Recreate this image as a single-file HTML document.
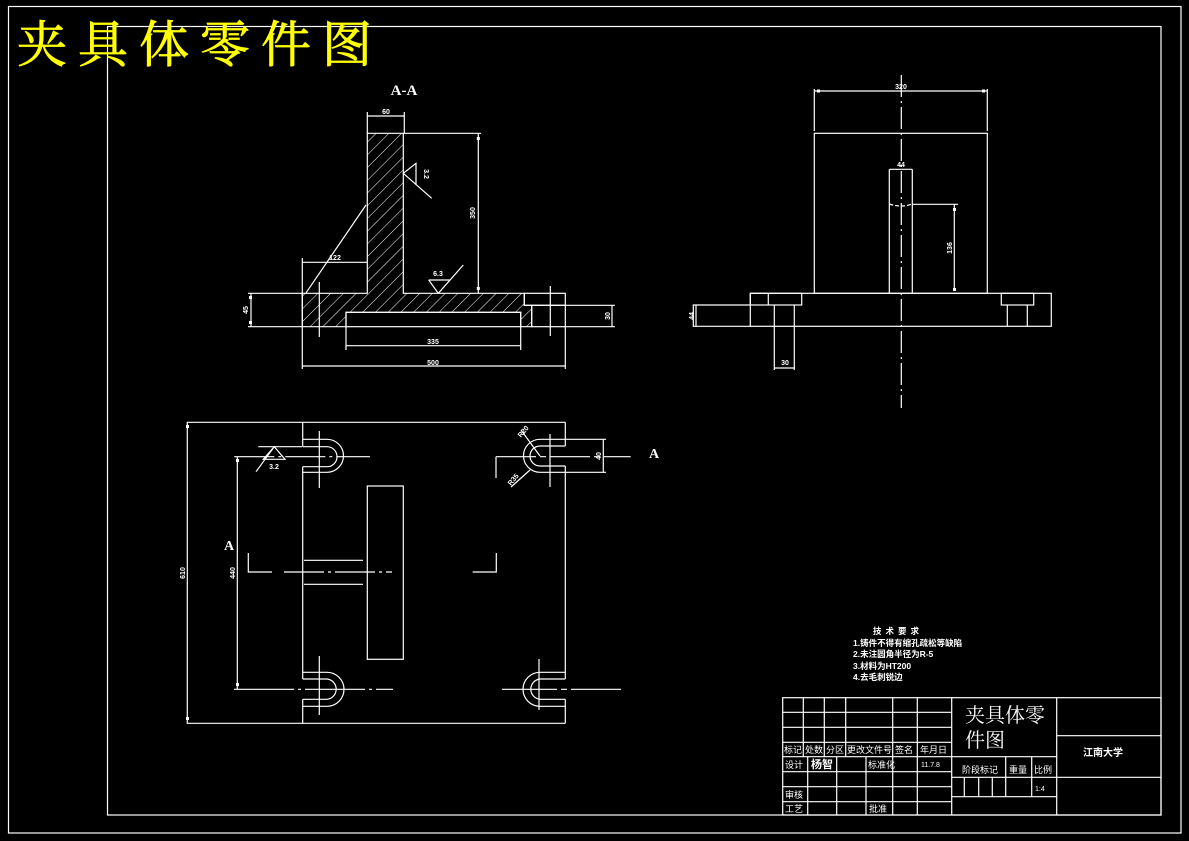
<!DOCTYPE html>
<html><head><meta charset="utf-8"><style>
html,body{margin:0;padding:0;background:#000;width:1189px;height:841px;overflow:hidden}
svg{display:block}
text{font-family:"Liberation Sans","Noto Sans CJK SC",sans-serif;fill:#fff}
.c{font-family:"Liberation Sans","Noto Sans CJK SC",sans-serif}
.s{font-family:"Liberation Serif","Noto Serif CJK SC",serif}
</style></head><body>
<svg width="1189" height="841" viewBox="0 0 1189 841" xmlns="http://www.w3.org/2000/svg">
<defs>
<pattern id="h" patternUnits="userSpaceOnUse" width="9" height="9" patternTransform="rotate(45)">
<line x1="0" y1="0" x2="0" y2="9" stroke="#fff" stroke-width="1"/>
</pattern>
</defs>
<g fill="none" stroke="#fff" stroke-width="1.2">
<rect x="8.5" y="6.5" width="1172.5" height="826.5"/>
<rect x="107.5" y="26.5" width="1053.5" height="788.5"/>

<path d="M367.3,133.3H403.3V293.3H524.3V305.3H531.7V326.7H520.7V312.3H346V326.7H302.3V293.3H367.3Z" fill="url(#h)"/>
<rect x="524.3" y="293.3" width="41" height="12"/>
<rect x="531.7" y="305.3" width="33.6" height="21.4"/>
<rect x="346" y="312.3" width="174.7" height="14.4"/>
<line x1="550.3" y1="286" x2="550.3" y2="336"/>
<line x1="319.3" y1="282" x2="319.3" y2="337"/>
<line x1="248" y1="293.3" x2="302" y2="293.3"/><line x1="248" y1="326.7" x2="302" y2="326.7"/>
<line x1="251" y1="293.3" x2="251" y2="326.7"/>
<line x1="565" y1="305.3" x2="615" y2="305.3"/><line x1="565" y1="326.7" x2="615" y2="326.7"/>
<line x1="612" y1="305.3" x2="612" y2="326.7"/>
<line x1="367.3" y1="133" x2="367.3" y2="112"/><line x1="404.3" y1="133" x2="404.3" y2="112"/>
<line x1="367.3" y1="116" x2="404.3" y2="116"/>
<line x1="403.3" y1="133.3" x2="481" y2="133.3"/>
<line x1="478.3" y1="133.3" x2="478.3" y2="293.3"/>
<line x1="302.3" y1="258" x2="302.3" y2="369"/>
<line x1="565.3" y1="326" x2="565.3" y2="369"/>
<line x1="302.3" y1="262.3" x2="367.3" y2="262.3"/>
<line x1="305.7" y1="293.3" x2="366" y2="205"/>
<polyline points="431.7,198.3 403.3,173.3 416,163.3 416,185"/>
<polyline points="428.7,280 450,280 438.3,293.3 463.3,265"/>
<line x1="428.7" y1="280" x2="438.3" y2="293.3"/>
<line x1="346" y1="326.7" x2="346" y2="350"/><line x1="520.7" y1="326.7" x2="520.7" y2="350"/>
<line x1="346" y1="345.7" x2="520.7" y2="345.7"/>
<line x1="302.3" y1="366" x2="565.3" y2="366"/>

<line x1="901.3" y1="75" x2="901.3" y2="408" stroke-dasharray="22,4,2,4"/>
<rect x="814.3" y="133.3" width="173" height="160"/>
<line x1="814.3" y1="89" x2="814.3" y2="131"/><line x1="987.3" y1="89" x2="987.3" y2="131"/>
<line x1="814.3" y1="91" x2="987.3" y2="91"/>
<line x1="889.3" y1="169.3" x2="889.3" y2="293.3"/><line x1="912.3" y1="169.3" x2="912.3" y2="293.3"/>
<line x1="889.3" y1="169.3" x2="912.3" y2="169.3"/>
<path d="M889.3,204 Q901,208 912.3,204" stroke-dasharray="4,2"/>
<line x1="912.3" y1="204.3" x2="958" y2="204.3"/>
<line x1="954.3" y1="204.3" x2="954.3" y2="291"/>
<rect x="750.3" y="293.3" width="301" height="33"/>
<polyline points="750.3,305 693.3,305 693.3,326.3 750.3,326.3"/>
<line x1="696" y1="305" x2="696" y2="326.3"/>
<rect x="750.3" y="293.3" width="51.4" height="11.7"/>
<line x1="768.3" y1="293.3" x2="768.3" y2="305"/>
<polyline points="774.3,305 774.3,370"/><polyline points="794.3,305 794.3,370"/>
<line x1="774.3" y1="368" x2="794.3" y2="368"/>
<rect x="1001.3" y="293.3" width="32.4" height="11.7"/>
<line x1="1007.3" y1="305" x2="1007.3" y2="326.3"/><line x1="1027.3" y1="305" x2="1027.3" y2="326.3"/>

<line x1="186.7" y1="422.3" x2="565.3" y2="422.3"/>
<line x1="186.7" y1="723.3" x2="565.3" y2="723.3"/>
<line x1="187.3" y1="422.3" x2="187.3" y2="723.3"/>
<path d="M302.7,422.3V446.7M302.7,466.7V679M302.7,699.3V723.3"/>
<path d="M565.3,422.3V446M565.3,466V679M565.3,699.3V723.3"/>
<path d="M302.7,439.3H327A16.5,16.5 0 0 1 327,472.3H302.7"/>
<path d="M302.7,446.7H327A10,10 0 0 1 327,466.7H302.7"/>
<line x1="234.3" y1="456.7" x2="370" y2="456.7" stroke-dasharray="40,4,3,4"/>
<line x1="319.3" y1="431" x2="319.3" y2="488"/>
<path d="M302.7,672.3H327A17,17 0 0 1 327,706.3H302.7"/>
<path d="M302.7,679H327A10.2,10.2 0 0 1 327,699.3H302.7"/>
<line x1="234" y1="689.3" x2="393" y2="689.3" stroke-dasharray="60,4,3,4"/>
<line x1="319.3" y1="656" x2="319.3" y2="715"/>
<path d="M565.3,439.3H540A16.5,16.5 0 0 0 540,472.3H565.3"/>
<path d="M565.3,446H540A10,10 0 0 0 540,466H565.3"/>
<line x1="565" y1="439.3" x2="606" y2="439.3"/><line x1="565" y1="472.3" x2="606" y2="472.3"/>
<line x1="603.3" y1="439.3" x2="603.3" y2="472.3"/>
<line x1="496" y1="456.7" x2="630.7" y2="456.7" stroke-dasharray="40,4,6,4"/>
<line x1="550" y1="434" x2="550" y2="487"/>
<line x1="496" y1="456.7" x2="496" y2="478"/>
<line x1="521" y1="430" x2="540" y2="456"/><line x1="511" y1="487" x2="530" y2="470"/>
<path d="M565.3,672.3H540A17,17 0 0 0 540,706.3H565.3"/>
<path d="M565.3,679H540A10.2,10.2 0 0 0 540,699.3H565.3"/>
<line x1="502" y1="689.3" x2="621" y2="689.3" stroke-dasharray="55,4,6,4"/>
<line x1="539" y1="659" x2="539" y2="710"/>
<rect x="367.3" y="486" width="36" height="173.3"/>
<path d="M304,560.3H363M304,584.3H363" />
<path d="M248.3,553V572H272M472.7,572H496.3V553"/>
<line x1="284" y1="572" x2="392" y2="572" stroke-dasharray="40,4,3,4"/>
<line x1="237.3" y1="456.7" x2="237.3" y2="689.3"/>
<polyline points="256,471.7 274.3,446.7 285,459.3 263.3,459.3 274.3,446.7"/>
<line x1="258.3" y1="446.7" x2="302" y2="446.7"/>

<rect x="782.7" y="697.7" width="378.3" height="117.3"/>
<path d="M782.7,712.3H951.7M782.7,727.3H951.7M782.7,742.3H951.7M782.7,756.7H1056.7M782.7,771.7H951.7M782.7,786.7H951.7M782.7,801.7H951.7"/>
<path d="M803.3,697.7V756.7M824.3,697.7V756.7M845.7,697.7V756.7M892.7,697.7V815M917.3,697.7V815M951.7,697.7V815M1056.7,697.7V815"/>
<path d="M807.7,756.7V815M836.7,756.7V815M866,756.7V815"/>
<path d="M951.7,777.3H1161M951.7,796.7H1056.7M1056.7,735.7H1161"/>
<path d="M964.3,777.3V796.7M978.7,777.3V796.7M992.3,777.3V796.7M1005.7,756.7V796.7M1031.7,756.7V796.7"/>
</g>

<g fill="#fff">
<rect x="249" y="296" width="3" height="3"/><rect x="249" y="321" width="3" height="3"/>
<rect x="476.8" y="137" width="3" height="3"/><rect x="476.8" y="287" width="3" height="3"/>
<rect x="817" y="89.5" width="3" height="3"/><rect x="982" y="89.5" width="3" height="3"/>
<rect x="953" y="208" width="3" height="3"/><rect x="953" y="288" width="3" height="3"/>
<rect x="186" y="425" width="3" height="3"/><rect x="186" y="717" width="3" height="3"/>
<rect x="236" y="459" width="3" height="3"/><rect x="236" y="683" width="3" height="3"/>
</g>

<text x="17" y="62" style="fill:#ff0;font-size:50px;letter-spacing:11px;stroke:#ff0;stroke-width:0.8" class="s">夹具体零件图</text>
<text x="404" y="95" font-size="15" font-weight="bold" text-anchor="middle" class="s">A-A</text>
<g font-size="7" font-weight="bold" text-anchor="middle">
<text x="386" y="114">60</text>
<text x="335" y="260">122</text>
<text x="438" y="276">6.3</text>
<text x="433" y="344">335</text>
<text x="433" y="365">500</text>
<text x="901" y="89">320</text>
<text x="901" y="167">44</text>
<text x="785" y="365">30</text>
<text x="274" y="469">3.2</text>
<text transform="translate(475,213) rotate(-90)">350</text>
<text transform="translate(424,174) rotate(90)">3.2</text>
<text transform="translate(248,310) rotate(-90)">45</text>
<text transform="translate(610,316) rotate(-90)">30</text>
<text transform="translate(952,248) rotate(-90)">136</text>
<text transform="translate(694,316) rotate(-90)">44</text>
<text transform="translate(185,573) rotate(-90)">610</text>
<text transform="translate(235,573) rotate(-90)">440</text>
<text transform="translate(601,456) rotate(-90)">40</text>
<text transform="translate(525,433) rotate(-50)">R20</text>
<text transform="translate(515,481) rotate(-50)">R35</text>
</g>
<text x="229" y="550" font-size="14" font-weight="bold" text-anchor="middle" class="s">A</text>
<text x="654" y="458" font-size="14" font-weight="bold" text-anchor="middle" class="s">A</text>

<g font-size="8.5" font-weight="bold" class="c">
<text x="873" y="634" letter-spacing="4">技术要求</text>
<text x="853" y="646">1.铸件不得有缩孔疏松等缺陷</text>
<text x="853" y="657">2.未注圆角半径为R-5</text>
<text x="853" y="669">3.材料为HT200</text>
<text x="853" y="680">4.去毛刺锐边</text>
</g>
<g font-size="9" class="c">
<text x="784" y="753">标记</text><text x="805" y="753">处数</text><text x="826" y="753">分区</text>
<text x="847" y="753">更改文件号</text><text x="895" y="753">签名</text><text x="920" y="753">年月日</text>
<text x="785" y="768">设计</text><text x="811" y="768" font-size="11" font-weight="bold">杨智</text>
<text x="868" y="768">标准化</text><text x="921" y="767" font-size="7">11.7.8</text>
<text x="785" y="798">审核</text><text x="785" y="812">工艺</text><text x="869" y="812">批准</text>
<text x="962" y="773">阶段标记</text><text x="1009" y="773">重量</text><text x="1034" y="773">比例</text>
<text x="1035" y="791" font-size="7">1:4</text>
<text x="1083" y="756" font-weight="bold" font-size="10">江南大学</text>
</g>
<text x="965" y="722" font-size="20" class="s">夹具体零</text>
<text x="965" y="747" font-size="20" class="s">件图</text>
</svg>
</body></html>
